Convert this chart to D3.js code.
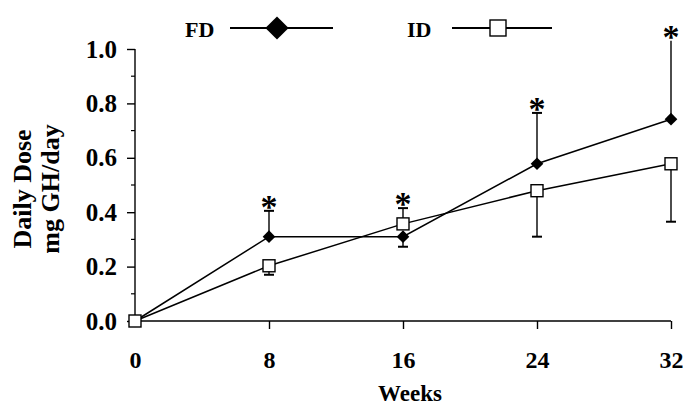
<!DOCTYPE html>
<html><head><meta charset="utf-8">
<script src="https://cdn.jsdelivr.net/npm/d3@7"></script>
<style>body{margin:0;background:#fff}svg{display:block}text{font-family:"Liberation Serif","Times New Roman",serif;font-weight:bold;fill:#000}</style>
</head><body><svg id="c" width="683" height="405"></svg>
<script>
const weeks = [0, 8, 16, 24, 32];
const fd = [0, 0.31, 0.31, 0.578, 0.742];
const id = [0, 0.203, 0.357, 0.479, 0.578];
// error bar end values (null = none)
const fdErrEnd = [null, 0.405, 0.273, 0.765, 1.03];
const idErrEnd = [null, 0.17, 0.415, 0.31, 0.365];
const starWeeks = [8, 16, 24, 32];
const starValues = [0.405, 0.415, 0.765, 1.03];
const xTicks = [0, 8, 16, 24, 32];
const yTicks = [0, 0.2, 0.4, 0.6, 0.8, 1.0];
const yMinor = [0.1, 0.3, 0.5, 0.7, 0.9];
const seriesNames = ["FD", "ID"];

const svg = d3.select("#c");
const x = d3.scaleLinear().domain([0, 32]).range([135, 671]);
const y = d3.scaleLinear().domain([0, 1]).range([321, 49]);

// axes
const xAxis = d3.axisBottom(x).tickValues(xTicks).tickSize(8).tickPadding(22).tickFormat(d3.format("d"));
const gx = svg.append("g").attr("transform", `translate(0,${y(0)})`).call(xAxis);
gx.select(".domain").attr("d", `M${x(0)},0H${x(32)}`).attr("stroke-width", 1.6);
gx.selectAll(".tick line").attr("stroke-width", 1.4);
gx.selectAll(".tick").filter(d => d === 0).select("line").remove();
gx.selectAll("text").style("font-size", "24px").style("font-family", "Liberation Serif").style("font-weight", "bold");

const yAxis = d3.axisLeft(y).tickValues(yTicks).tickSize(8).tickPadding(10).tickFormat(d3.format(".1f"));
const gy = svg.append("g").attr("transform", `translate(${x(0)},0)`).call(yAxis);
gy.select(".domain").attr("d", `M0,${y(0)}V${y(1)}`).attr("stroke-width", 1.4);
gy.selectAll(".tick line").attr("stroke-width", 1.4);
gy.selectAll("text").style("font-size", "25px").style("font-family", "Liberation Serif").style("font-weight", "bold");
svg.append("g").selectAll("line").data(yMinor).join("line")
  .attr("x1", x(0) - 4).attr("x2", x(0)).attr("y1", d => y(d)).attr("y2", d => y(d))
  .attr("stroke", "#000").attr("stroke-width", 1.2);

// axis titles
svg.append("text").attr("x", 410).attr("y", 401).attr("text-anchor", "middle").style("font-size", "23px").text("Weeks");
svg.append("text").attr("transform", "translate(31,189) rotate(-90)").attr("text-anchor", "middle").style("font-size", "26px").text("Daily Dose");
svg.append("text").attr("transform", "translate(59,189) rotate(-90)").attr("text-anchor", "middle").style("font-size", "26px").text("mg GH/day");

// error bars
function errBars(vals, ends) {
  const pts = weeks.map((w, i) => ({w, v: vals[i], e: ends[i]})).filter(d => d.e !== null);
  const g = svg.append("g").attr("stroke", "#000").attr("stroke-width", 1.4);
  g.selectAll("line.v").data(pts).join("line").attr("class", "v")
    .attr("x1", d => x(d.w)).attr("x2", d => x(d.w)).attr("y1", d => y(d.v)).attr("y2", d => y(d.e));
  g.selectAll("line.c").data(pts.filter(d => d.e <= 1)).join("line").attr("class", "c")
    .attr("x1", d => x(d.w) - 5).attr("x2", d => x(d.w) + 5).attr("y1", d => y(d.e)).attr("y2", d => y(d.e))
    .attr("stroke-width", 2);
}
errBars(fd, fdErrEnd);
errBars(id, idErrEnd);

// lines
const line = d3.line().x((d, i) => x(weeks[i])).y(d => y(d));
svg.append("path").attr("d", line(fd)).attr("fill", "none").attr("stroke", "#000").attr("stroke-width", 1.5);
svg.append("path").attr("d", line(id)).attr("fill", "none").attr("stroke", "#000").attr("stroke-width", 1.5);

// markers
const diamond = d3.symbol().type(d3.symbolSquare).size(80);
svg.append("g").selectAll("path").data(fd).join("path")
  .attr("d", diamond).attr("transform", (d, i) => `translate(${x(weeks[i])},${y(d)}) rotate(45)`)
  .attr("fill", "#000");
svg.append("g").selectAll("rect").data(id).join("rect")
  .attr("x", (d, i) => x(weeks[i]) - 6).attr("y", d => y(d) - 6).attr("width", 12).attr("height", 12)
  .attr("fill", "#fff").attr("stroke", "#000").attr("stroke-width", 1.4);

// asterisks
svg.append("g").selectAll("text").data(starWeeks).join("text")
  .attr("x", d => x(d)).attr("y", (d, i) => y(starValues[i]) + 7)
  .attr("text-anchor", "middle").style("font-size", "34px").text("*");

// legend
const lg = svg.append("g");
lg.append("text").attr("x", 185).attr("y", 37).style("font-size", "22px").text(seriesNames[0]);
lg.append("line").attr("x1", 230).attr("x2", 333).attr("y1", 28).attr("y2", 28).attr("stroke", "#000").attr("stroke-width", 2);
lg.append("path").attr("d", d3.symbol().type(d3.symbolSquare).size(270)).attr("transform", "translate(277,28) rotate(45)").attr("fill", "#000");
lg.append("text").attr("x", 407).attr("y", 37).style("font-size", "22px").text(seriesNames[1]);
lg.append("line").attr("x1", 452).attr("x2", 552).attr("y1", 28).attr("y2", 28).attr("stroke", "#000").attr("stroke-width", 2);
lg.append("rect").attr("x", 490).attr("y", 20).attr("width", 16).attr("height", 16).attr("fill", "#fff").attr("stroke", "#000").attr("stroke-width", 1.4);
</script></body></html>
